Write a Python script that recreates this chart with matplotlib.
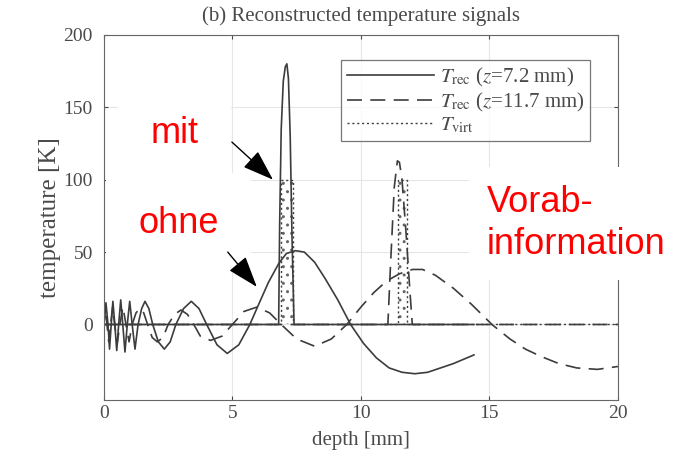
import matplotlib.pyplot as plt

plt.rcParams['font.family'] = ['Liberation Serif', 'DejaVu Serif']
plt.rcParams['mathtext.fontset'] = 'stix'
plt.rcParams['hatch.linewidth'] = 1.0

# broad reconstruction, z = 7.2 mm (without prior information)
depth_a = [0.0, 0.08, 0.16, 0.22, 0.285, 0.35, 0.425, 0.5, 0.575, 0.655, 0.735, 0.82,
           0.91, 1.005, 1.1, 1.21, 1.33, 1.47, 1.6, 1.75, 1.9, 2.12, 2.35, 2.58, 2.8,
           3.1, 3.4, 3.7, 4.0, 4.4, 4.8, 5.25, 5.68, 6.0, 6.4, 6.8, 7.1, 7.45, 7.8,
           8.2, 8.6, 9.1, 9.6, 10.1, 10.6, 11.1, 11.6, 12.1, 12.6, 13.1, 13.6, 14.0, 14.4]
temp_a = [0, 15, 0, -17, 0, 16, 0, -18, 0, 17, 0, -19,
          0, 16, 0, -17, 0, 11, 16, 11, 0, -12, -17, -12, 0,
          11, 16, 11, 0, -14, -20, -14, 0, 13, 29, 42, 49, 51, 50,
          43, 32, 17, 0, -13, -23, -30, -33, -34, -33, -30, -27, -24, -21]

# broad reconstruction, z = 11.7 mm
depth_b = [0.0, 0.06, 0.12, 0.19, 0.26, 0.34, 0.42, 0.52, 0.62, 0.74, 0.86, 0.98, 1.1,
           1.25, 1.4, 1.55, 1.7, 1.88, 2.08, 2.3, 2.5, 2.75, 3.0, 3.25, 3.5, 3.75,
           4.15, 4.6, 5.0, 5.45, 5.95, 6.45, 6.9, 7.5, 8.2, 8.85, 9.45, 10.0, 10.5,
           11.0, 11.5, 12.0, 12.4, 12.9, 13.6, 14.3, 15.1, 15.8, 16.4, 17.0, 17.7,
           18.4, 19.2, 20.0]
temp_b = [0, 11, 0, -12, 0, 12, 0, -13, 0, 12, 0, -12, 0,
          8, 11, 8, 0, -9, -12, -9, 0, 7, 10, 7, 0, -8,
          -11, -8, 0, 9, 12, 8, 0, -10, -15, -10, 0, 12, 22,
          30, 35, 38, 38, 34, 25, 14, 0, -10, -17, -22, -27,
          -30, -31, -29]

# sharp reconstruction with prior information, z = 7.2 mm
depth_c = [0.0, 6.8, 6.84, 6.9, 6.98, 7.06, 7.12, 7.18, 7.25, 7.32, 7.4, 14.4]
temp_c = [0, 0, 70, 135, 168, 178, 180, 170, 130, 60, 0, 0]

# sharp reconstruction with prior information, z = 11.7 mm
depth_d = [0.0, 11.05, 11.15, 11.3, 11.42, 11.5, 11.6, 11.75, 11.9, 12.0, 20.0]
temp_d = [0, 0, 40, 95, 113, 112, 100, 65, 25, 0, 0]

# virtual temperature (top-hat)
virt_left = [6.9, 11.45]
virt_right = [7.35, 11.8]
virt_height = [100, 100]

virt_x = [0.0]
virt_y = [0]
for l, r, h in zip(virt_left, virt_right, virt_height):
    virt_x += [l, l, r, r]
    virt_y += [0, h, h, 0]
virt_x.append(20.0)
virt_y.append(0)

line_col = '#3c3c3c'
text_col = '#4a4a4a'

fig = plt.figure(figsize=(6.79, 4.59), dpi=100)
ax = fig.add_axes([0.153, 0.129, 0.757, 0.795])

ax.plot(depth_a, temp_a, color=line_col, lw=1.2, label=r'$T_\mathrm{rec}$ ($z$=7.2 mm)')
ax.plot(depth_b, temp_b, color=line_col, lw=1.2, ls=(0, (9, 5)),
        label=r'$T_\mathrm{rec}$ ($z$=11.7 mm)')
ax.plot(virt_x, virt_y, color=line_col, lw=1.0, ls=(0, (1.5, 2)), label=r'$T_\mathrm{virt}$')
ax.bar([(l + r) / 2 for l, r in zip(virt_left, virt_right)], virt_height,
       width=[r - l for l, r in zip(virt_left, virt_right)],
       fill=False, hatch='..', edgecolor='#666666', lw=0)
ax.plot(depth_c, temp_c, color=line_col, lw=1.2)
ax.plot(depth_d, temp_d, color=line_col, lw=1.2, ls=(0, (9, 5)))

ax.set_xlim(0, 20)
ax.set_ylim(-52, 200)
ax.set_xticks([0, 5, 10, 15, 20])
ax.set_yticks([0, 50, 100, 150, 200])
ax.grid(True, color='#e6e6e6', lw=0.8)
ax.set_axisbelow(True)
ax.tick_params(direction='in', top=True, right=True, length=3, labelsize=14,
               colors=text_col)
ax.tick_params(axis='y', pad=8)
for s in ax.spines.values():
    s.set_color('#666666')
    s.set_linewidth(0.8)

ax.set_xlabel('depth [mm]', fontsize=15, color=text_col, labelpad=7)
ax.set_ylabel('temperature [K]', fontsize=18, color=text_col, labelpad=2)
ax.set_title('(b) Reconstructed temperature signals', fontsize=15, color=text_col, pad=10)

leg = ax.legend(loc='upper right', bbox_to_anchor=(0.946, 0.93), fontsize=15,
                handlelength=4.2, frameon=True, fancybox=False, borderpad=0.25,
                labelspacing=0.1, handletextpad=0.3, borderaxespad=0)
leg.get_frame().set_edgecolor('#555555')
leg.get_frame().set_linewidth(0.9)
for t in leg.get_texts():
    t.set_color(text_col)

red_font = dict(family='Liberation Sans', color='red', fontsize=26)
box = dict(facecolor='white', edgecolor='none', boxstyle='square,pad=0.9')
ax.text(2.76, 132, 'mit', ha='center', va='center', bbox=box, zorder=3, **red_font)
ax.text(2.9, 70, 'ohne', ha='center', va='center', bbox=box, zorder=3, **red_font)
fig.text(0.717, 0.513, 'Vorab-\ninformation', ha='left', va='center', linespacing=1.25,
         bbox=dict(facecolor='white', edgecolor='none', boxstyle='square,pad=0.5'),
         zorder=3, **red_font)

arrow = dict(arrowstyle='-|>,head_length=1.3,head_width=0.45', color='black', lw=1.0,
             shrinkA=0, shrinkB=0, mutation_scale=15)
ax.annotate('', xy=(6.58, 100), xytext=(4.98, 126), arrowprops=arrow, zorder=4)
ax.annotate('', xy=(5.95, 26), xytext=(4.82, 50), arrowprops=arrow, zorder=4)

fig.savefig('out.png', dpi=100)
